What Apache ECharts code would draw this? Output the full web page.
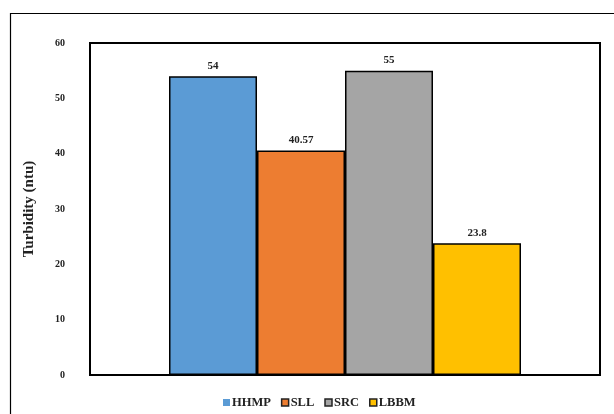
<!DOCTYPE html>
<html>
<head>
<meta charset="utf-8">
<script src="https://cdn.jsdelivr.net/npm/echarts@6/dist/echarts.min.js"></script>
<style>
  html, body { margin: 0; padding: 0; background: #fff; }
  #chart { width: 614px; height: 414px; }
</style>
</head>
<body>
<div id="chart"></div>
<script>
// Turbidity per treatment
const categories = [''];
const seriesNames = ['HHMP', 'SLL', 'SRC', 'LBBM'];
const turbidity = [54, 40.57, 55, 23.8];
const colors = ['#5b9bd5', '#ed7d31', '#a5a5a5', '#ffc000'];
const yTicks = { min: 0, max: 60, interval: 10 };

const FONT = '"Liberation Serif", "Times New Roman", serif';

const chart = echarts.init(document.getElementById('chart'), null, { renderer: 'canvas' });

const series = seriesNames.map((name, i) => ({
  name,
  type: 'bar',
  data: [turbidity[i]],
  barWidth: 88,
  barGap: '0%',
  itemStyle: { color: colors[i], borderColor: '#000', borderWidth: 1.5 },
  label: {
    show: true,
    position: 'top',
    distance: 5,
    fontFamily: FONT,
    fontWeight: 'bold',
    fontSize: 11,
    color: '#222'
  }
}));

chart.setOption({
  animation: false,
  backgroundColor: '#fff',
  graphic: [{
    type: 'rect',
    shape: { x: 10.5, y: 13.5, width: 700, height: 500 },
    style: { fill: 'none', stroke: '#000', lineWidth: 1.2 },
    silent: true,
    z: -1
  }],
  grid: {
    left: 90, top: 43, right: 14, bottom: 39,
    show: true,
    borderColor: '#000',
    borderWidth: 2,
    backgroundColor: 'transparent'
  },
  legend: {
    bottom: 0,
    left: 218,
    itemWidth: 7,
    itemHeight: 7,
    itemGap: 10,
    icon: 'rect',
    textStyle: { fontFamily: FONT, fontWeight: 'bold', fontSize: 12.5, color: '#222', padding: [0, 0, 0, -3] },
    data: seriesNames.map((n, i) => ({
      name: n,
      itemStyle: i === 0
        ? { color: colors[i], borderWidth: 0 }
        : { color: colors[i], borderColor: '#222', borderWidth: 1.5 }
    }))
  },
  xAxis: {
    type: 'category',
    data: categories,
    axisLine: { show: false },
    axisTick: { show: false },
    axisLabel: { show: false }
  },
  yAxis: {
    type: 'value',
    min: yTicks.min,
    max: yTicks.max,
    interval: yTicks.interval,
    name: 'Turbidity (ntu)',
    nameLocation: 'middle',
    nameGap: 53,
    nameTextStyle: { fontFamily: FONT, fontWeight: 'bold', fontSize: 15, color: '#222' },
    axisLine: { show: false },
    axisTick: { show: false },
    splitLine: { show: false },
    axisLabel: {
      margin: 25,
      fontFamily: FONT,
      fontWeight: 'bold',
      fontSize: 10,
      color: '#222'
    }
  },
  series
});
</script>
</body>
</html>
